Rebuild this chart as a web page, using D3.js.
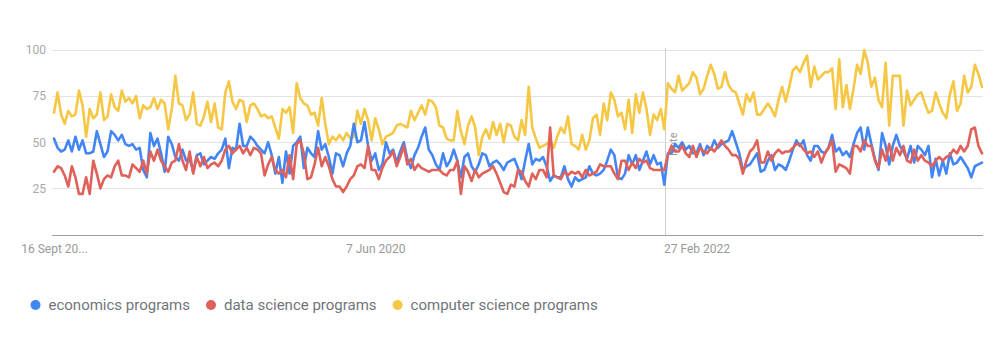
<!DOCTYPE html>
<html>
<head>
<meta charset="utf-8">
<script src="https://cdn.jsdelivr.net/npm/d3@7/dist/d3.min.js"></script>
<style>
  html, body { margin: 0; padding: 0; background: #fff; }
  svg { display: block; font-family: Roboto, "Noto Sans", Arial, sans-serif; }
</style>
</head>
<body>
<svg id="chart" width="1006" height="351"></svg>
<script>
// ---- data (weekly, starting 16 Sep 2018) ----
const startDate = "2018-09-16";
const seriesNames = ["economics programs", "data science programs", "computer science programs"];
const seriesColors = ["#4285f4", "#e0605a", "#f6c744"];

const economics = [
  52,47,45,46,51,45,53,46,51,44,44,45,56,49,42,45,56,54,51,54,49,48,49,46,47,35,
  31,55,48,52,44,34,53,49,42,40,46,40,41,34,43,44,38,40,42,41,44,46,52,36,47,46,60,48,48,53,51,48,46,44,
  50,43,33,42,28,45,33,48,50,53,36,47,44,42,56,46,49,42,33,44,43,37,44,48,60,50,51,61,48,40,44,35,38,
  50,44,46,39,45,50,41,36,43,47,53,58,46,43,38,35,44,37,40,46,40,31,42,44,37,34,38,44,43,37,39,40,38,35,
  39,40,41,36,30,40,49,38,41,40,42,37,29,32,31,31,37,30,26,31,29,30,31,37,33,32,33,35,40,46,43,31,30,
  33,43,38,43,35,40,45,38,43,38,39,27,44,44,49,47,50,46,48,44,44,49,43,48,46,51,47,49,50,51,56,50,44,35,
  37,38,41,44,34,35,40,43,35,38,37,35,40,46,51,48,51,43,40,48,48,45,44,47,54,45,47,43,45,42,49,55,
  58,46,58,49,41,35,55,48,38,48,54,48,45,41,48,39,48,46,43,48,31,41,32,40,33,44,38,39,42,39,36,31,37,38,39
];
const dataScience = [
  34,37,36,32,26,37,31,22,22,31,22,40,33,25,30,32,31,37,40,32,32,31,38,36,34,40,
  33,45,40,46,40,37,34,39,40,49,40,35,45,33,42,37,42,36,38,39,37,40,46,48,44,46,48,44,47,43,47,46,44,32,
  38,42,35,33,35,31,43,30,49,51,44,30,31,38,47,37,42,37,30,26,26,23,26,30,32,37,38,36,48,35,35,30,36,
  40,42,45,37,42,48,38,41,35,38,36,35,34,35,35,35,33,32,35,35,40,22,37,34,29,35,31,33,34,35,37,33,28,23,
  22,27,26,35,34,29,26,33,30,35,35,31,58,32,31,30,34,32,34,33,34,31,35,32,33,34,38,37,37,37,33,30,40,
  40,35,39,36,41,39,40,36,35,35,35,35,43,48,45,45,48,44,42,48,42,47,45,44,47,45,48,51,48,46,43,43,41,33,
  40,45,47,51,39,39,45,40,44,46,44,45,45,47,49,49,46,44,45,42,45,39,44,47,51,34,38,37,36,33,48,48,
  45,51,48,48,40,36,46,40,49,40,47,43,48,40,39,46,40,43,40,39,37,40,42,40,42,43,46,44,48,45,48,57,58,48,44
];
const computerScience = [
  66,77,65,60,67,64,65,78,70,53,68,63,65,77,62,64,76,69,67,78,72,74,71,75,63,70,
  68,69,74,68,73,71,57,68,86,71,70,62,65,77,60,59,64,72,61,71,58,57,77,83,72,68,73,72,61,70,71,68,64,65,
  63,64,58,52,68,66,69,55,82,74,71,70,65,66,59,74,60,49,53,51,54,51,55,52,53,67,60,68,62,51,63,57,49,
  53,54,55,59,60,59,58,67,62,66,70,65,73,72,69,59,58,52,51,51,67,56,49,59,64,58,43,53,57,52,61,54,60,50,
  60,59,53,51,62,54,80,58,52,47,48,49,51,47,53,58,55,64,49,48,46,54,46,51,63,65,54,71,62,77,73,64,66,
  57,73,55,76,66,77,68,54,65,62,68,57,82,79,77,86,78,80,82,88,85,76,79,86,92,87,79,80,88,81,78,77,71,65,
  76,72,77,65,65,68,71,68,64,73,80,72,80,89,91,88,93,97,80,91,84,86,88,88,90,68,95,69,81,68,79,92,
  87,100,93,80,85,73,69,93,59,86,86,86,59,78,70,73,76,77,71,66,67,77,71,66,63,76,83,67,71,86,77,80,92,87,80
];
const yTicks = [25, 50, 75, 100];
const xTickDates = ["2018-09-16", "2020-06-07", "2022-02-27"];
const xTickLabels = ["16 Sept 20...", "7 Jun 2020", "27 Feb 2022"];
const noteDate = "2022-01-01";
const noteLabel = "Note";

// ---- chart ----
const svg = d3.select("#chart");
const parse = d3.utcParse("%Y-%m-%d");
const t0 = parse(startDate);
const dates = economics.map((_, i) => d3.utcDay.offset(t0, 7 * i));

const x = d3.scaleUtc().domain([dates[0], dates[dates.length - 1]]).range([54, 982]);
const y = d3.scaleLinear().domain([0, 100]).range([234.5, 50]);

// gridlines + y labels
const yAxis = d3.axisLeft(y).tickValues(yTicks).tickSize(-(983 - 52)).tickPadding(6);
const gy = svg.append("g").attr("transform", "translate(52,0)").call(yAxis);
gy.select(".domain").remove();
gy.selectAll(".tick line").attr("stroke", "#e3e3e3").attr("stroke-width", 1).attr("shape-rendering", "crispEdges");
gy.selectAll(".tick text").attr("fill", "#a8a8a8").attr("font-size", 12).attr("font-family", "Roboto, sans-serif");

// x axis baseline + labels
const xAxis = d3.axisBottom(x).tickValues(xTickDates.map(parse)).tickSize(0).tickPadding(9)
  .tickFormat((d, i) => xTickLabels[i]);
const gx = svg.append("g").attr("transform", "translate(0,235)").call(xAxis);
gx.select(".domain").attr("d", "M52,0.5H983").attr("stroke", "#9e9e9e").attr("shape-rendering", "crispEdges");
gx.selectAll(".tick text").attr("fill", "#999").attr("font-size", 12).attr("font-family", "Roboto, sans-serif");

// note line
const nx = Math.round(x(parse(noteDate))) - 1.5;
svg.append("line").attr("x1", nx).attr("x2", nx).attr("y1", 48).attr("y2", 235)
  .attr("stroke", "#cfcfcf").attr("stroke-width", 1);
svg.append("text").attr("transform", `translate(${nx + 11},156) rotate(-90)`)
  .attr("font-size", 11).attr("fill", "#9a9a9a").text(noteLabel);

// lines
const allSeries = [economics, dataScience, computerScience];
const line = d3.line().x((d, i) => x(dates[i])).y(d => y(d)).curve(d3.curveLinear);
const drawOrder = [2, 0, 1];
drawOrder.forEach(k => {
  svg.append("path").datum(allSeries[k])
    .attr("d", line).attr("fill", "none")
    .attr("stroke", seriesColors[k]).attr("stroke-width", 2.6)
    .attr("stroke-linejoin", "round").attr("stroke-linecap", "round");
});

// legend
const lg = svg.append("g").attr("transform", "translate(0,305)");
let cx = 35.5;
seriesNames.forEach((name, k) => {
  lg.append("circle").attr("cx", cx).attr("cy", 0).attr("r", 5).attr("fill", seriesColors[k]);
  const t = lg.append("text").attr("x", cx + 13).attr("y", 0).attr("dy", "0.35em")
    .attr("font-size", 15).attr("fill", "#70757a").text(name);
  cx = cx + 13 + t.node().getComputedTextLength() + 21;
});
</script>
</body>
</html>
